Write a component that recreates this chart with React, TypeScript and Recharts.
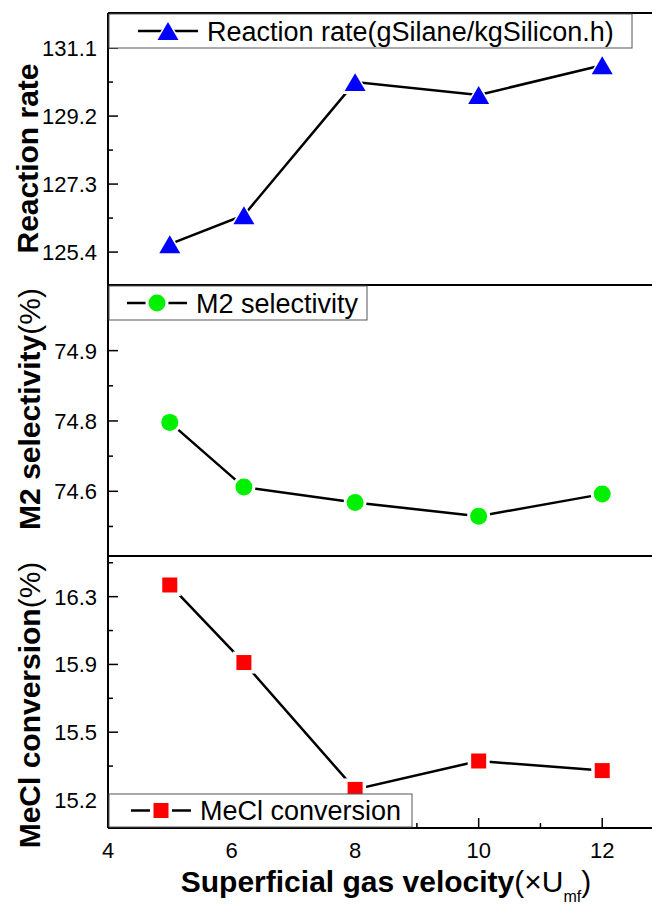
import React from 'react';
import { LineChart, Line, XAxis, YAxis, ReferenceLine } from 'recharts';

// superficial gas velocity (×Umf)
const velocity = [5, 6.2, 8, 10, 12];
const reactionRate = [125.62, 126.43, 130.15, 129.79, 130.62];
const m2Selectivity = [74.747, 74.609, 74.576, 74.547, 74.594];
const meclConversion = [16.322, 15.91, 15.236, 15.387, 15.336];

const xMajorTicks = [4, 6, 8, 10, 12];
const xMinorTicks = [5, 7, 9, 11];
const xDomain = [4, 13];

const rateMajorTicks = [125.4, 127.3, 129.2, 131.1];
const rateTickLabels = ['125.4', '127.3', '129.2', '131.1'];
const rateMinorTicks = [126.35, 128.25, 130.15];
const rateDomain = [124.48, 132.08];

const m2MajorTicks = [74.6, 74.75, 74.9];
const m2TickLabels = ['74.6', '74.8', '74.9'];
const m2MinorTicks = [74.525, 74.675, 74.825];
const m2Domain = [74.462, 75.04];

const meclMajorTicks = [15.18, 15.54, 15.9, 16.26];
const meclTickLabels = ['15.2', '15.5', '15.9', '16.3'];
const meclMinorTicks = [15.36, 15.72, 16.08, 16.44];
const meclDomain = [15.031, 16.476];

const FONT = '"Liberation Sans", Arial, sans-serif';
const BLUE = '#0000ff';
const GREEN = '#00f000';
const RED = '#ff0000';

const toRows = (values: number[]) => velocity.map((v, i) => ({ v, value: values[i] }));

// ticks point inward; minor ticks get no label
const makeYTick = (majors: number[], labels: string[]) => (props: any) => {
  const { x, y, payload } = props;
  const i = majors.indexOf(payload.value);
  return (
    <g>
      <line x1={x} x2={x + (i >= 0 ? 10 : 5)} y1={y} y2={y} stroke="#000" strokeWidth={1.5} />
      {i >= 0 && (
        <text x={x - 11} y={y} dy="0.36em" textAnchor="end" fontSize={22} fontFamily={FONT} fill="#000">
          {labels[i]}
        </text>
      )}
    </g>
  );
};

const XTick = (props: any) => {
  const { x, y, payload } = props;
  const major = xMajorTicks.includes(payload.value);
  return (
    <g>
      <line x1={x} x2={x} y1={y} y2={y - (major ? 10 : 5)} stroke="#000" strokeWidth={1.5} />
      {major && (
        <text x={x} y={y + 30} textAnchor="middle" fontSize={22} fontFamily={FONT} fill="#000">
          {payload.value}
        </text>
      )}
    </g>
  );
};

const triPath = (cx: number, cy: number, s: number) =>
  `M${cx},${cy - 0.85 * s} L${cx + s},${cy + 0.85 * s} L${cx - s},${cy + 0.85 * s} Z`;

const Triangle = ({ cx, cy }: { cx: number; cy: number }) => (
  <g>
    <path d={triPath(cx, cy, 14)} fill="#fff" />
    <path d={triPath(cx, cy, 10.5)} fill={BLUE} />
  </g>
);
const Circle = ({ cx, cy }: { cx: number; cy: number }) => (
  <g>
    <circle cx={cx} cy={cy} r={11.5} fill="#fff" />
    <circle cx={cx} cy={cy} r={8.5} fill={GREEN} />
  </g>
);
const Square = ({ cx, cy }: { cx: number; cy: number }) => (
  <g>
    <rect x={cx - 11} y={cy - 11} width={22} height={22} fill="#fff" />
    <rect x={cx - 7.5} y={cy - 7.5} width={15} height={15} fill={RED} />
  </g>
);

const dotOf = (Shape: any) => (props: any) =>
  props.cx == null ? <g key={props.index} /> : <Shape key={props.index} cx={props.cx} cy={props.cy} />;

const axisStyle = { stroke: '#000', strokeWidth: 2 };
const chartMargin = (top: number) => ({ top, right: 4, bottom: 3, left: 0 });

const LegendItem = (p: { x: number; y: number; w: number; h: number; sx: number; label: string; shape: any }) => {
  const Shape = p.shape;
  const cy = p.y + p.h / 2;
  return (
    <g>
      <rect x={p.x} y={p.y} width={p.w} height={p.h} fill="#fff" stroke="#555" strokeWidth={1} />
      <line x1={p.sx - 30} x2={p.sx + 30} y1={cy} y2={cy} stroke="#000" strokeWidth={2.5} />
      <Shape cx={p.sx} cy={cy} />
      <text x={p.sx + 39} y={cy} dy="0.36em" fontSize={27} fontFamily={FONT} fill="#000">
        {p.label}
      </text>
    </g>
  );
};

export default function App() {
  return (
    <div style={{ position: 'relative', width: 660, height: 905, margin: '-8px 0 0 -8px', overflow: 'hidden', background: '#fff' }}>
      <div style={{ position: 'absolute', left: 0, top: 0 }}>
        <LineChart width={668} height={288} data={toRows(reactionRate)} margin={chartMargin(13)}>
          <XAxis dataKey="v" type="number" domain={xDomain} allowDataOverflow ticks={xMajorTicks} tick={false} tickLine={false} height={0} axisLine={axisStyle} />
          <YAxis type="number" domain={rateDomain} allowDataOverflow width={108} ticks={[...rateMajorTicks, ...rateMinorTicks]} interval={0} tickSize={0} tickMargin={0} tickLine={false} tick={makeYTick(rateMajorTicks, rateTickLabels)} axisLine={axisStyle} />
          <ReferenceLine y={rateDomain[1]} stroke="#000" strokeWidth={2} />
          <ReferenceLine y={rateDomain[0]} stroke="#000" strokeWidth={2} />
          <Line type="linear" dataKey="value" stroke="#000" strokeWidth={2.5} dot={dotOf(Triangle)} activeDot={false} isAnimationActive={false} />
        </LineChart>
      </div>
      <div style={{ position: 'absolute', left: 0, top: 280 }}>
        <LineChart width={668} height={279} data={toRows(m2Selectivity)} margin={chartMargin(5)}>
          <XAxis dataKey="v" type="number" domain={xDomain} allowDataOverflow ticks={xMajorTicks} tick={false} tickLine={false} height={0} axisLine={axisStyle} />
          <YAxis type="number" domain={m2Domain} allowDataOverflow width={108} ticks={[...m2MajorTicks, ...m2MinorTicks]} interval={0} tickSize={0} tickMargin={0} tickLine={false} tick={makeYTick(m2MajorTicks, m2TickLabels)} axisLine={axisStyle} />
          <ReferenceLine y={m2Domain[0]} stroke="#000" strokeWidth={2} />
          <Line type="linear" dataKey="value" stroke="#000" strokeWidth={2.5} dot={dotOf(Circle)} activeDot={false} isAnimationActive={false} />
        </LineChart>
      </div>
      <div style={{ position: 'absolute', left: 0, top: 551 }}>
        <LineChart width={668} height={317} data={toRows(meclConversion)} margin={{ top: 5, right: 4, bottom: 0, left: 0 }}>
          <XAxis dataKey="v" type="number" domain={xDomain} allowDataOverflow ticks={[...xMajorTicks, ...xMinorTicks]} interval={0} tickSize={0} tickMargin={0} tickLine={false} tick={XTick} height={40} axisLine={axisStyle} />
          <YAxis type="number" domain={meclDomain} allowDataOverflow width={108} ticks={[...meclMajorTicks, ...meclMinorTicks]} interval={0} tickSize={0} tickMargin={0} tickLine={false} tick={makeYTick(meclMajorTicks, meclTickLabels)} axisLine={axisStyle} />
          <Line type="linear" dataKey="value" stroke="#000" strokeWidth={2.5} dot={dotOf(Square)} activeDot={false} isAnimationActive={false} />
        </LineChart>
      </div>

      <svg width={660} height={905} style={{ position: 'absolute', left: 0, top: 0, pointerEvents: 'none' }}>
        <LegendItem x={109} y={14} w={523} h={34} sx={168} label="Reaction rate(gSilane/kgSilicon.h)" shape={Triangle} />
        <LegendItem x={109} y={286} w={258} h={34} sx={157} label="M2 selectivity" shape={Circle} />
        <LegendItem x={109} y={794} w={303} h={33} sx={161} label="MeCl conversion" shape={Square} />

        <g fontFamily={FONT} fontSize={30} fill="#000">
          <text transform="translate(38,158.5) rotate(-90)" textAnchor="middle" fontWeight="bold">Reaction rate</text>
          <text transform="translate(40,409) rotate(-90)" textAnchor="middle">
            <tspan fontWeight="bold">M2 selectivity</tspan>
            <tspan>(%)</tspan>
          </text>
          <text transform="translate(40,705) rotate(-90)" textAnchor="middle">
            <tspan fontWeight="bold">MeCl conversion</tspan>
            <tspan>(%)</tspan>
          </text>
          <text x={386} y={892} textAnchor="middle">
            <tspan fontWeight="bold">Superficial gas velocity</tspan>
            <tspan>(×U</tspan>
            <tspan fontSize={16} dy={10}>mf</tspan>
            <tspan dy={-10}>)</tspan>
          </text>
        </g>
      </svg>
    </div>
  );
}
